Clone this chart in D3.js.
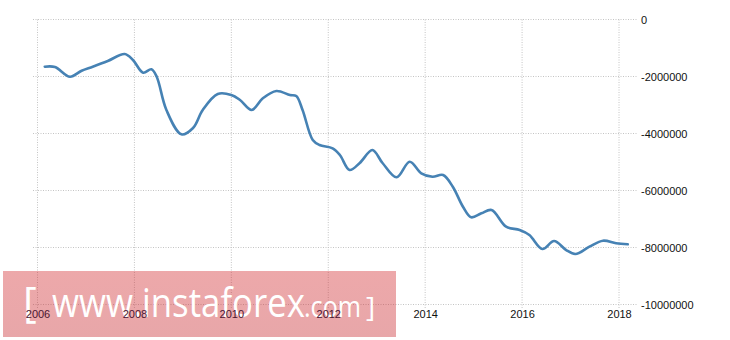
<!DOCTYPE html>
<html>
<head>
<meta charset="utf-8">
<script src="https://cdn.jsdelivr.net/npm/d3@7"></script>
<style>
html,body{margin:0;padding:0;background:#fff;}
svg{display:block;}
</style>
</head>
<body>
<svg id="chart" width="730" height="340"></svg>
<script>
// ---- data ----
const years = [2006.15,2006.36,2006.67,2006.91,2007.14,2007.45,2007.80,2007.97,2008.18,2008.35,2008.46,2008.66,2008.97,2009.21,2009.41,2009.72,2010.0,2010.18,2010.42,2010.65,2010.93,2011.21,2011.34,2011.47,2011.68,2011.82,2012.09,2012.24,2012.44,2012.65,2012.91,2013.12,2013.41,2013.68,2013.92,2014.15,2014.37,2014.57,2014.78,2014.95,2015.16,2015.37,2015.67,2015.95,2016.15,2016.42,2016.66,2016.91,2017.10,2017.39,2017.67,2017.94,2018.18];
const values = [-1656000,-1667000,-2007000,-1796000,-1656000,-1456000,-1210000,-1420000,-1867000,-1747000,-2007000,-3175000,-4028000,-3807000,-3175000,-2614000,-2649000,-2825000,-3175000,-2765000,-2509000,-2649000,-2684000,-3175000,-4228000,-4404000,-4519000,-4754000,-5281000,-5035000,-4579000,-5035000,-5537000,-4989000,-5396000,-5516000,-5456000,-5867000,-6568000,-6940000,-6800000,-6684000,-7270000,-7386000,-7561000,-8053000,-7772000,-8088000,-8228000,-7972000,-7761000,-7853000,-7888000];
const xTicks = [2006,2008,2010,2012,2014,2016,2018];
const yTicks = [0,-2000000,-4000000,-6000000,-8000000,-10000000];
const watermark = ["[", "www.instaforex", ".com", "]"];

// ---- scales ----
const svg = d3.select("#chart");
const x = d3.scaleLinear().domain([2006, 2018]).range([37.5, 619]);
const y = d3.scaleLinear().domain([0, -10000000]).range([19.5, 304.5]);

const grid = svg.append("g").attr("stroke", "#c4c4c4").attr("stroke-width", 1).attr("stroke-dasharray", "1,1.5");
grid.selectAll("line.h").data(yTicks).join("line")
  .attr("x1", 33).attr("x2", 637)
  .attr("y1", d => y(d)).attr("y2", d => y(d));
grid.selectAll("line.v").data(xTicks).join("line")
  .attr("x1", d => x(d)).attr("x2", d => x(d))
  .attr("y1", 19.5).attr("y2", 308);

// y axis labels (right)
const yAxis = d3.axisRight(y).tickValues(yTicks).tickSize(0).tickPadding(0).tickFormat(d => String(d));
const gy = svg.append("g").attr("transform", "translate(641,0)").call(yAxis);
gy.select(".domain").remove();
gy.selectAll("text").attr("font-family", "Liberation Sans, Arial, sans-serif").attr("font-size", "11px").attr("fill", "#111");

// line
const line = d3.line().x((d, i) => x(years[i])).y(d => y(d)).curve(d3.curveCatmullRom.alpha(0.5));
svg.append("path").datum(values)
  .attr("d", line)
  .attr("fill", "none")
  .attr("stroke", "#4682b4")
  .attr("stroke-width", 2.6)
  .attr("stroke-linejoin", "round")
  .attr("stroke-linecap", "round");

// watermark
const defs = svg.append("defs");
const gr = defs.append("linearGradient").attr("id", "wm").attr("x1", 0).attr("y1", 0).attr("x2", 0).attr("y2", 1);
gr.append("stop").attr("offset", "0%").attr("stop-color", "rgb(212,48,52)");
gr.append("stop").attr("offset", "100%").attr("stop-color", "rgb(200,44,50)");
svg.append("rect").attr("x", 3).attr("y", 271).attr("width", 393).attr("height", 66)
  .attr("fill", "url(#wm)").attr("fill-opacity", 0.42);
const wm = svg.append("g").attr("fill", "#fff").attr("font-family", "Open Sans, Lato, sans-serif").attr("font-weight", 400);
wm.append("text").attr("x", 23).attr("y", 317).attr("font-size", 42).text(watermark[0]);
wm.append("text").attr("x", 52).attr("y", 317).attr("font-size", 41)
  .attr("textLength", 253).attr("lengthAdjust", "spacingAndGlyphs").text(watermark[1]);
wm.append("text").attr("x", 304).attr("y", 317).attr("font-size", 30)
  .attr("textLength", 57).attr("lengthAdjust", "spacingAndGlyphs").text(watermark[2]);
wm.append("text").attr("x", 366).attr("y", 317).attr("font-size", 28).text(watermark[3]);

// x axis labels (drawn above the watermark, as in the reference)
const xAxis = d3.axisBottom(x).tickValues(xTicks).tickSize(0).tickPadding(0).tickFormat(d3.format("d"));
const gx = svg.append("g").attr("transform", "translate(0,310)").call(xAxis);
gx.select(".domain").remove();
gx.selectAll("text").attr("font-family", "Liberation Sans, Arial, sans-serif").attr("font-size", "11px")
  .attr("fill", d => x(d) < 396 ? "#4a1530" : "#111");
</script>
</body>
</html>
